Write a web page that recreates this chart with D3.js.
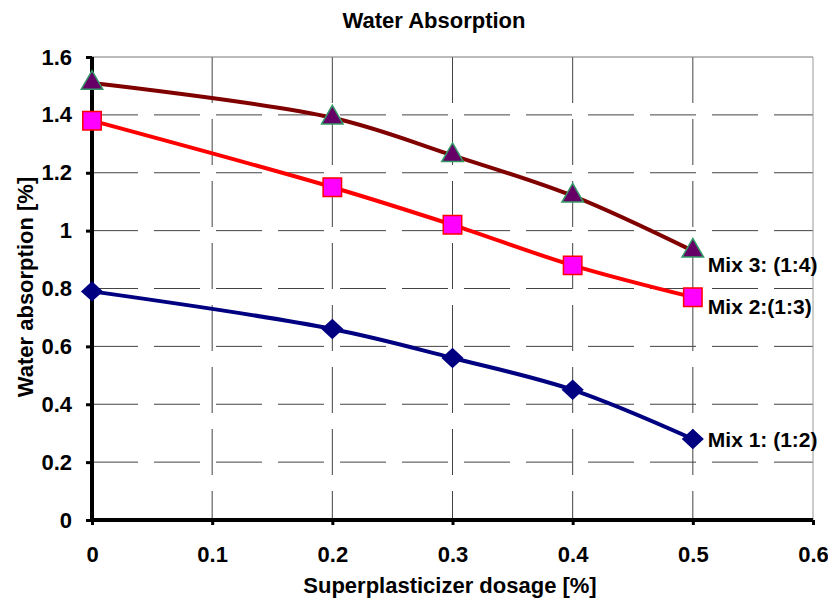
<!DOCTYPE html>
<html>
<head>
<meta charset="utf-8">
<script src="https://cdn.jsdelivr.net/npm/d3@7"></script>
<style>
  body { margin: 0; background: #fff; }
  text { font-family: "Liberation Sans", Arial, sans-serif; font-weight: bold; fill: #000; }
</style>
</head>
<body>
<div id="chart"></div>
<script>
// superplasticizer dosage [%]
var dosage = [0, 0.2, 0.3, 0.4, 0.5];
var mix1 = [0.79, 0.66, 0.56, 0.45, 0.28];
var mix2 = [1.38, 1.15, 1.02, 0.88, 0.77];
var mix3 = [1.51, 1.39, 1.26, 1.12, 0.93];
var seriesNames = ['Mix 1: (1:2)', 'Mix 2:(1:3)', 'Mix 3: (1:4)'];
var xTicks = [0, 0.1, 0.2, 0.3, 0.4, 0.5, 0.6];
var yTicks = [0, 0.2, 0.4, 0.6, 0.8, 1, 1.2, 1.4, 1.6];

var width = 828, height = 601;
var plotL = 92, plotR = 813, plotT = 57, plotB = 520;
var font = '"Liberation Sans", Arial, sans-serif';

var svg = d3.select('#chart')
  .append('svg')
  .attr('width', width)
  .attr('height', height);

var x = d3.scaleLinear().domain([0, 0.6]).range([plotL, plotR]);
var y = d3.scaleLinear().domain([0, 1.6]).range([plotB, plotT]);

// grid
svg.append('g')
  .selectAll('line')
  .data(yTicks.filter(d => d > 0 && d < 1.6))
  .enter().append('line')
    .attr('x1', plotL).attr('x2', plotR)
    .attr('y1', d => y(d)).attr('y2', d => y(d))
    .attr('stroke', '#444')
    .attr('stroke-width', 1)
    .attr('stroke-dasharray', '46,16');

svg.append('g')
  .selectAll('line')
  .data(xTicks.filter(d => d > 0 && d < 0.6))
  .enter().append('line')
    .attr('x1', d => x(d)).attr('x2', d => x(d))
    .attr('y1', plotT).attr('y2', plotB)
    .attr('stroke', '#444')
    .attr('stroke-width', 1)
    .attr('stroke-dasharray', '46,16');

// plot border top / right
svg.append('line')
  .attr('x1', plotL).attr('x2', plotR)
  .attr('y1', y(1.6)).attr('y2', y(1.6))
  .attr('stroke', '#777').attr('stroke-width', 1);
svg.append('line')
  .attr('x1', x(0.6)).attr('x2', x(0.6))
  .attr('y1', plotT).attr('y2', plotB)
  .attr('stroke', '#999').attr('stroke-width', 1);

// axes
var xAxis = d3.axisBottom(x)
  .tickValues(xTicks)
  .tickSize(5)
  .tickPadding(20)
  .tickFormat(d3.format('~g'));
var gx = svg.append('g')
  .attr('transform', 'translate(0,' + plotB + ')')
  .call(xAxis);
gx.select('.domain').attr('stroke', '#000').attr('stroke-width', 4).attr('d', 'M' + plotL + ',0H' + plotR);
gx.selectAll('.tick line').attr('stroke', '#000').attr('stroke-width', 3);
gx.selectAll('.tick text')
  .attr('y', 42).attr('dy', 0)
  .style('font-size', '22px').style('font-family', font).style('font-weight', 'bold');

var yAxis = d3.axisLeft(y)
  .tickValues(yTicks)
  .tickSize(6)
  .tickPadding(14)
  .tickFormat(d3.format('~g'));
var gy = svg.append('g')
  .attr('transform', 'translate(' + plotL + ',0)')
  .call(yAxis);
gy.select('.domain').attr('stroke', '#000').attr('stroke-width', 4).attr('d', 'M0,' + plotT + 'V' + plotB);
gy.selectAll('.tick line').attr('stroke', '#000').attr('stroke-width', 3);
gy.selectAll('.tick text')
  .style('font-size', '22px').style('font-family', font).style('font-weight', 'bold');

// series
var series = [
  { name: seriesNames[0], values: mix1, line: '#000080', fill: '#000080', stroke: '#000080', shape: d3.symbolSquare, size: 200, tf: ' scale(1,0.92) rotate(45)', dy: 8 },
  { name: seriesNames[1], values: mix2, line: '#ff0000', fill: '#ff00ff', stroke: '#ff0000', shape: d3.symbolSquare, size: 340, tf: '', dy: 17 },
  { name: seriesNames[2], values: mix3, line: '#800000', fill: '#660066', stroke: '#339966', shape: d3.symbolTriangle, size: 200, tf: '', dy: 21 }
];

var line = d3.line()
  .x(d => x(d[0]))
  .y(d => y(d[1]))
  .curve(d3.curveCatmullRom.alpha(0.5));

series.forEach(s => {
  var pts = dosage.map((d, i) => [d, s.values[i]]);

  svg.append('path')
    .datum(pts)
    .attr('d', line)
    .attr('fill', 'none')
    .attr('stroke', s.line)
    .attr('stroke-width', 4);

  svg.append('g')
    .selectAll('path')
    .data(pts)
    .enter().append('path')
      .attr('d', d3.symbol().type(s.shape).size(s.size))
      .attr('transform', d => 'translate(' + x(d[0]) + ',' + y(d[1]) + ')' + s.tf)
      .attr('fill', s.fill)
      .attr('stroke', s.stroke)
      .attr('stroke-width', 1.5);

  var last = pts[pts.length - 1];
  svg.append('text')
    .attr('x', x(last[0]) + 15)
    .attr('y', y(last[1]) + s.dy)
    .style('font-size', '21px')
    .text(s.name);
});

// titles
svg.append('text')
  .attr('x', 434)
  .attr('y', 28)
  .attr('text-anchor', 'middle')
  .style('font-size', '22px')
  .text('Water Absorption');

svg.append('text')
  .attr('x', 450)
  .attr('y', 593)
  .attr('text-anchor', 'middle')
  .style('font-size', '22px')
  .text('Superplasticizer dosage [%]');

svg.append('text')
  .attr('transform', 'translate(33,287) rotate(-90)')
  .attr('text-anchor', 'middle')
  .style('font-size', '22px')
  .text('Water absorption [%]');
</script>
</body>
</html>
